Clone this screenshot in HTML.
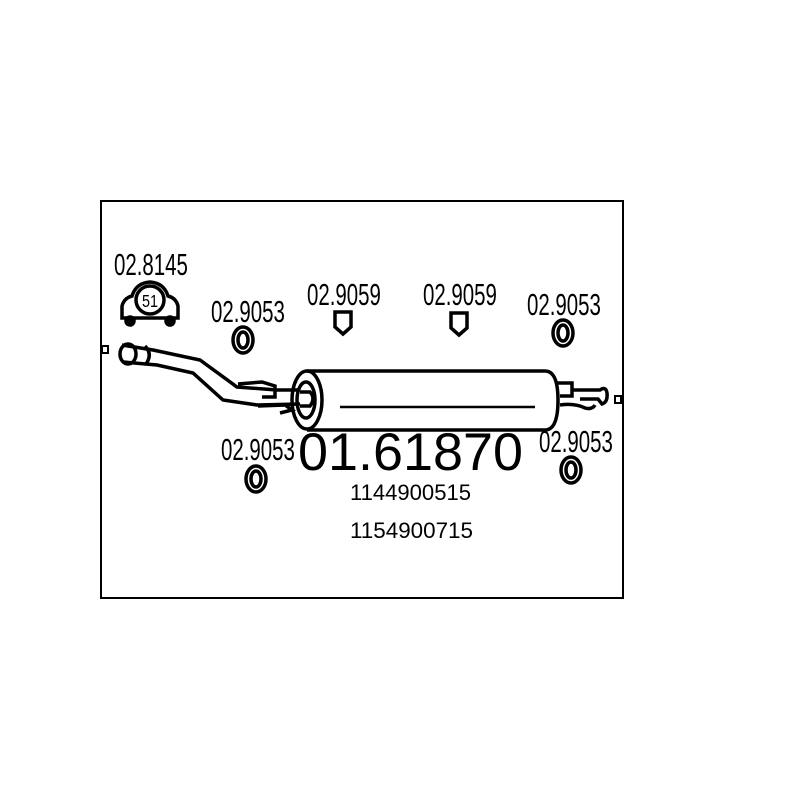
<!DOCTYPE html>
<html><head><style>body{margin:0;background:#fff}svg{display:block}</style></head><body>
<svg width="800" height="800" viewBox="0 0 800 800" xmlns="http://www.w3.org/2000/svg">
<rect x="0" y="0" width="800" height="800" fill="#fff"/>
<rect x="101" y="201" width="522" height="397" fill="none" stroke="#000" stroke-width="2"/>
<rect x="102" y="346" width="6" height="7" fill="#fff" stroke="#000" stroke-width="2"/>
<rect x="615" y="396" width="6" height="7" fill="#fff" stroke="#000" stroke-width="2"/>
<g font-family="Liberation Sans, sans-serif" fill="#000">
<text transform="translate(114,275) scale(0.66,1)" font-size="31">02.8145</text>
<text transform="translate(211,322) scale(0.66,1)" font-size="31">02.9053</text>
<text transform="translate(307,305) scale(0.66,1)" font-size="31">02.9059</text>
<text transform="translate(423,305) scale(0.66,1)" font-size="31">02.9059</text>
<text transform="translate(527,315) scale(0.66,1)" font-size="31">02.9053</text>
<text transform="translate(221,460) scale(0.66,1)" font-size="31">02.9053</text>
<text transform="translate(539,452) scale(0.66,1)" font-size="31">02.9053</text>
<text x="298" y="470" font-size="53" textLength="225" lengthAdjust="spacingAndGlyphs">01.61870</text>
<text x="350" y="500" font-size="22" textLength="121" lengthAdjust="spacingAndGlyphs">1144900515</text>
<text x="350" y="538" font-size="22" textLength="123" lengthAdjust="spacingAndGlyphs">1154900715</text>
</g>
<g fill="none" stroke="#000" stroke-width="3.5">
<!-- clamp -->
<path d="M122,318 L122,306 Q124,298 132,296 Q136,283 150,282 Q164,283 168,296 Q176,298 178,306 L178,318 Z"/>
<circle cx="150" cy="300" r="14"/>
<circle cx="130" cy="321" r="4" fill="#000"/>
<circle cx="170" cy="321" r="4" fill="#000"/>
<!-- rings -->
<ellipse cx="243" cy="340" rx="10" ry="13"/><ellipse cx="243" cy="340" rx="5" ry="8"/>
<ellipse cx="563" cy="333" rx="10" ry="13"/><ellipse cx="563" cy="333" rx="5" ry="8"/>
<ellipse cx="256" cy="479" rx="10" ry="13"/><ellipse cx="256" cy="479" rx="5" ry="8"/>
<ellipse cx="571" cy="470" rx="10" ry="13"/><ellipse cx="571" cy="470" rx="5" ry="8"/>
<!-- bolts -->
<path d="M335,312 L351,312 L351,327 L343,334 L335,327 Z"/>
<path d="M451,313 L467,313 L467,328 L459,335 L451,328 Z"/>
<!-- pipe -->
<path d="M122,345 L153,350 L200,360 L237,387 L277,390 L300,390"/>
<path d="M123,362 L157,365 L193,373 L223,400 L257,405 L300,404"/>
<ellipse cx="128" cy="354" rx="8" ry="10"/>
<path d="M145,346 Q153,354 146,364"/>
<path d="M238,384 L262,382 L275,386 L275,397 L262,397"/>
<path d="M258,406 L285,405 L292,410 L280,413"/>
<!-- muffler -->
<path d="M307,371 L545,371 Q558,371 558,400 Q558,430 545,430 L307,430"/>
<ellipse cx="307" cy="400" rx="15" ry="29"/>
<ellipse cx="306" cy="400" rx="9" ry="18"/>
<path d="M300,392 L310,392 Q316,398 310,406 L300,406"/>
<line x1="340" y1="407" x2="535" y2="407" stroke-width="2.5"/>
<!-- right outlet -->
<path d="M555,383 L572,383 L572,396 L560,396"/>
<path d="M572,390 L600,390 Q606,386 607,393 Q608,402 602,404 L598,399 L580,399"/>
<path d="M560,405 Q575,403 585,408 Q592,410 595,405"/>
</g>
<text transform="translate(142,307) scale(0.8,1)" font-family="Liberation Sans, sans-serif" font-size="18">51</text>
</svg>
</body></html>
